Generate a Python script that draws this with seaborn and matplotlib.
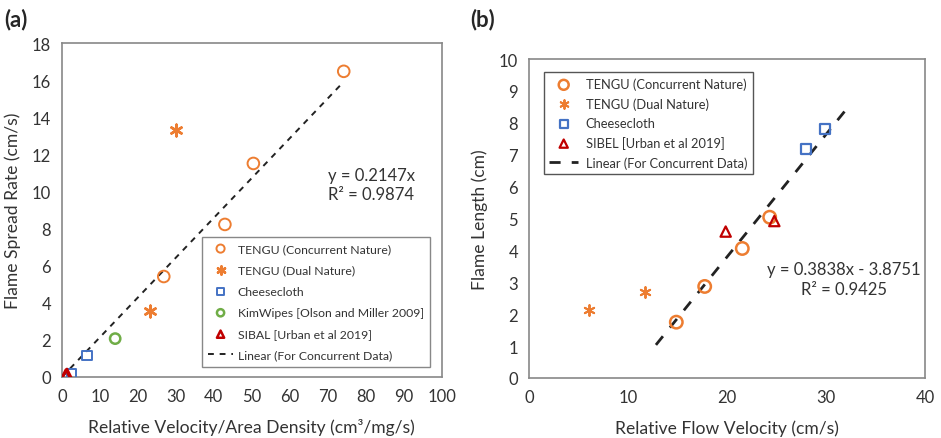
import numpy as np
import pandas as pd
import matplotlib
matplotlib.use("Agg")
import matplotlib.pyplot as plt
import seaborn as sns

sns.set_style("white")
plt.rcParams['font.family'] = ['Lato', 'DejaVu Sans']

# ---------------- Panel (a) data ----------------
a_conc_x = [26.8, 42.9, 50.4, 74.2]
a_conc_y = [5.42, 8.23, 11.52, 16.49]
a_dual_x = [23.3, 29.9]
a_dual_y = [3.55, 13.34]
a_cheese_x = [2.5, 6.6]
a_cheese_y = [0.18, 1.15]
a_kim_x = [14.0]
a_kim_y = [2.07]
a_sibal_x = [1.0, 1.3]
a_sibal_y = [0.12, 0.16]
a_slope = 0.2147
a_fit_range = [0.0, 74.2]
a_eq = "y = 0.2147x\nR² = 0.9874"
a_xticks = list(range(0, 101, 10))
a_yticks = list(range(0, 19, 2))

# ---------------- Panel (b) data ----------------
b_conc_x = [14.86, 17.73, 21.53, 24.30]
b_conc_y = [1.75, 2.87, 4.06, 5.04]
b_dual_x = [6.03, 11.66]
b_dual_y = [2.14, 2.69]
b_cheese_x = [27.97, 29.92]
b_cheese_y = [7.18, 7.80]
b_sibel_x = [19.85, 24.77]
b_sibel_y = [4.59, 4.92]
b_slope = 0.3838
b_icpt = -3.8751
b_fit_range = [12.8, 32.0]
b_eq = "y = 0.3838x - 3.8751\nR² = 0.9425"
b_xticks = [0, 10, 20, 30, 40]
b_yticks = list(range(0, 11))

ORANGE = "#ED7D31"
BLUE = "#4472C4"
GREEN = "#70AD47"
RED = "#C00000"
TXT = "#333333"
SPINE = "#888888"

asterisk = (6, 2, 0)

fig = plt.figure(figsize=(9.41, 4.39), dpi=100)
axa = fig.add_axes([0.0659, 0.139, 0.4035, 0.760])
axb = fig.add_axes([0.5625, 0.1367, 0.4205, 0.7266])


def scat(ax, x, y, marker, color, label, s=55, lw=1.4):
    df = pd.DataFrame({"x": x, "y": y})
    if marker == asterisk:
        sns.scatterplot(data=df, x="x", y="y", ax=ax, marker=marker, s=s,
                        color=color, linewidth=lw, label=label, zorder=4)
    else:
        sns.scatterplot(data=df, x="x", y="y", ax=ax, marker=marker, s=s,
                        facecolor="none", edgecolor=color, linewidth=lw,
                        label=label, zorder=4)


def fitline(ax, rng, slope, icpt, label, lw, dashes):
    fx = np.array(rng)
    df = pd.DataFrame({"x": fx, "y": slope * fx + icpt})
    sns.lineplot(data=df, x="x", y="y", ax=ax, color="#222222", lw=lw,
                 label=label, zorder=3)
    ax.lines[-1].set_dashes(dashes)


def style(ax, xt, yt, xlab, ylab):
    ax.set_xticks(xt)
    ax.set_yticks(yt)
    ax.set_xlim(xt[0], xt[-1])
    ax.set_ylim(yt[0], yt[-1])
    ax.tick_params(direction="in", length=4, width=0.8, colors=SPINE,
                   labelcolor=TXT, labelsize=12, pad=8)
    for sp in ax.spines.values():
        sp.set_color(SPINE)
        sp.set_linewidth(1.2)
    ax.set_xlabel(xlab, fontsize=12.6, color=TXT, labelpad=10)
    ax.set_ylabel(ylab, fontsize=12.6, color=TXT, labelpad=8)


# Panel (a)
fitline(axa, a_fit_range, a_slope, 0.0, "Linear (For Concurrent Data)", 1.4, (3, 3))
scat(axa, a_conc_x, a_conc_y, "o", ORANGE, "TENGU (Concurrent Nature)", s=70)
scat(axa, a_dual_x, a_dual_y, asterisk, ORANGE, "TENGU (Dual Nature)", s=70, lw=1.8)
scat(axa, a_cheese_x, a_cheese_y, "s", BLUE, "Cheesecloth", s=45)
scat(axa, a_kim_x, a_kim_y, "o", GREEN, "KimWipes [Olson and Miller 2009]", s=55, lw=1.8)
scat(axa, a_sibal_x, a_sibal_y, "^", RED, "SIBAL [Urban et al 2019]", s=55, lw=1.8)
style(axa, a_xticks, a_yticks, "Relative Velocity/Area Density (cm³/mg/s)",
      "Flame Spread Rate (cm/s)")
axa.text(0.70, 0.577, a_eq, transform=axa.transAxes, fontsize=12,
         color=TXT, ha="left", va="center", linespacing=1.3)
h, l = axa.get_legend_handles_labels()
order = [1, 2, 3, 4, 5, 0]
leg = axa.legend([h[i] for i in order], [l[i] for i in order],
                 loc="lower right", bbox_to_anchor=(0.985, 0.012),
                 fontsize=8.8, frameon=True, fancybox=False, framealpha=1,
                 edgecolor=SPINE, handlelength=2.0, markerscale=0.7,
                 labelspacing=0.85, borderpad=0.5, handletextpad=0.4)
for t in leg.get_texts():
    t.set_color(TXT)

# Panel (b)
fitline(axb, b_fit_range, b_slope, b_icpt, "Linear (For Concurrent Data)", 2.0, (4, 4))
scat(axb, b_conc_x, b_conc_y, "o", ORANGE, "TENGU (Concurrent Nature)", s=80, lw=1.8)
scat(axb, b_dual_x, b_dual_y, asterisk, ORANGE, "TENGU (Dual Nature)", s=60, lw=1.4)
scat(axb, b_cheese_x, b_cheese_y, "s", BLUE, "Cheesecloth", s=50, lw=1.6)
scat(axb, b_sibel_x, b_sibel_y, "^", RED, "SIBEL [Urban et al 2019]", s=55, lw=1.6)
style(axb, b_xticks, b_yticks, "Relative Flow Velocity (cm/s)", "Flame Length (cm)")
axb.text(0.795, 0.31, b_eq, transform=axb.transAxes, fontsize=12,
         color=TXT, ha="center", va="center", linespacing=1.3, multialignment="center")
h, l = axb.get_legend_handles_labels()
order = [1, 2, 3, 4, 0]
leg = axb.legend([h[i] for i in order], [l[i] for i in order],
                 loc="upper left", bbox_to_anchor=(0.02, 0.98),
                 fontsize=9.3, frameon=True, fancybox=False, framealpha=1,
                 edgecolor="#555555", handlelength=2.2, markerscale=0.8,
                 labelspacing=0.55, borderpad=0.45, handletextpad=0.6)
for t in leg.get_texts():
    t.set_color(TXT)

fig.text(0.005, 0.955, "(a)", fontsize=16, fontweight="bold", ha="left", va="center")
fig.text(0.5, 0.955, "(b)", fontsize=16, fontweight="bold", ha="left", va="center")

fig.savefig("out.png", dpi=100)
